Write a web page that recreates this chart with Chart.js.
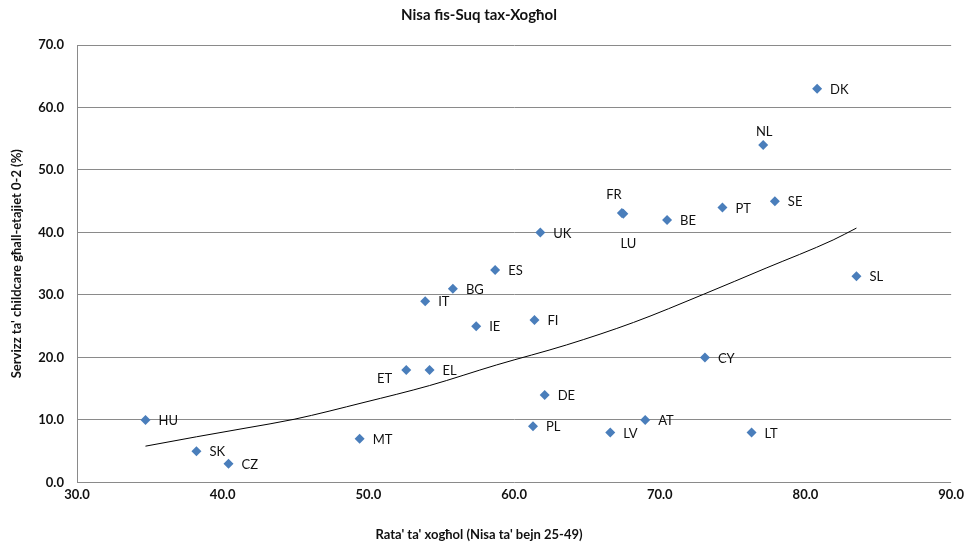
<!DOCTYPE html>
<html>
<head>
<meta charset="utf-8">
<script src="https://cdn.jsdelivr.net/npm/chart.js@4/dist/chart.umd.min.js"></script>
<style>
  html, body { margin: 0; padding: 0; background: #fff; }
  #wrap { width: 969px; height: 544px; }
</style>
</head>
<body>
<div id="wrap"><canvas id="chart"></canvas></div>
<script>
// data
const countries = ["DK", "NL", "SE", "PT", "BE", "FR", "LU", "UK", "SL", "ES", "BG", "IT", "IE",
  "FI", "CY", "ET", "EL", "DE", "HU", "AT", "PL", "LV", "LT", "MT", "SK", "CZ"];
const employmentRate = [80.8, 77.1, 77.9, 74.3, 70.5, 67.4, 67.5, 61.8, 83.5, 58.7, 55.8, 53.9, 57.4,
  61.4, 73.1, 52.6, 54.2, 62.1, 34.7, 69.0, 61.3, 66.6, 76.3, 49.4, 38.2, 40.4];
const childcare = [63, 54, 45, 44, 42, 43.1, 43, 40, 33, 34, 31, 29, 25,
  26, 20, 18, 18, 14, 10, 10, 9, 8, 8, 7, 5, 3];

// trend line, points
const trendX = [34.7, 38.2, 41.6, 44.9, 49.7, 54.2, 58.8, 63.6, 68.2, 73.0, 77.3, 81.9, 83.5];
const trendY = [5.8, 7.3, 8.7, 10.1, 12.8, 15.5, 18.8, 22.0, 25.6, 30.1, 34.3, 38.8, 40.7];

// where each country label sits relative to its marker
const labelPlace = ["r", "t", "r", "r", "r", "tl", "b", "r", "r", "r", "r", "r", "r",
  "r", "r", "l", "r", "r", "r", "r", "r", "r", "r", "r", "r", "r"];

const FONT = "Lato, 'Open Sans', sans-serif";

const pointLabels = {
  id: "pointLabels",
  afterDatasetsDraw(chart) {
    const meta = chart.getDatasetMeta(1);
    const ctx = chart.ctx;
    ctx.save();
    ctx.font = "13px " + FONT;
    ctx.fillStyle = "#111";
    ctx.textBaseline = "middle";
    meta.data.forEach((pt, i) => {
      let x = pt.x, y = pt.y;
      const p = labelPlace[i];
      if (p === "r") { ctx.textAlign = "left"; x += 13; y += 1; }
      else if (p === "l") { ctx.textAlign = "right"; x -= 14; y += 9; }
      else if (p === "t") { ctx.textAlign = "center"; x += 1; y -= 13; }
      else if (p === "tl") { ctx.textAlign = "center"; x -= 8; y -= 18; }
      else if (p === "b") { ctx.textAlign = "center"; x += 5; y += 30; }
      ctx.fillText(countries[i], x, y);
    });
    ctx.restore();
  }
};

new Chart(document.getElementById("chart"), {
  type: "scatter",
  data: {
    datasets: [
      {
        label: "trend",
        data: trendX.map((x, i) => ({ x: x, y: trendY[i] })),
        showLine: true,
        borderColor: "#000",
        borderWidth: 1,
        pointRadius: 0,
        cubicInterpolationMode: "monotone",
        fill: false
      },
      {
        label: "countries",
        data: employmentRate.map((x, i) => ({ x: x, y: childcare[i] })),
        pointStyle: "rectRot",
        pointRadius: 5,
        backgroundColor: "#4a7ebb",
        borderColor: "#4a7ebb",
        borderWidth: 0
      }
    ]
  },
  options: {
    responsive: true,
    maintainAspectRatio: false,
    animation: false,
    layout: { padding: { left: 5, right: 16, top: 0, bottom: 0 } },
    plugins: {
      legend: { display: false },
      tooltip: { enabled: false },
      title: {
        display: true,
        text: "Nisa fis-Suq tax-Xogħol",
        color: "#111",
        font: { family: FONT, size: 15, weight: "bold" },
        padding: { top: 6, bottom: 21 }
      },
      // x axis caption, centred on the whole picture like the original
      subtitle: {
        display: true,
        position: "bottom",
        text: "Rata' ta' xogħol (Nisa ta' bejn 25-49)",
        color: "#111",
        font: { family: FONT, size: 13, weight: "bold" },
        padding: { top: 0, bottom: 1 }
      }
    },
    scales: {
      x: {
        type: "linear",
        min: 30,
        max: 90,
        afterFit: (scale) => { scale.height = 45; },
        ticks: {
          stepSize: 10,
          padding: 5,
          color: "#111",
          font: { family: FONT, size: 13, weight: "bold" },
          callback: (v) => v.toFixed(1)
        },
        grid: { display: false, drawTicks: false },
        border: { display: false }
      },
      y: {
        type: "linear",
        min: 0,
        max: 70,
        afterFit: (scale) => { scale.width = 72; },
        ticks: {
          stepSize: 10,
          padding: 13,
          color: "#111",
          font: { family: FONT, size: 13, weight: "bold" },
          callback: (v) => v.toFixed(1)
        },
        grid: { color: "#8a8a8a", lineWidth: 1, drawTicks: false },
        border: { display: true, color: "#8a8a8a", width: 1 },
        title: {
          display: true,
          text: "Servizz ta' childcare għall-etajiet 0-2 (%)",
          color: "#111",
          font: { family: FONT, size: 13, weight: "bold" },
          padding: { top: 4, bottom: 0 }
        }
      }
    }
  },
  plugins: [pointLabels]
});
</script>
</body>
</html>
